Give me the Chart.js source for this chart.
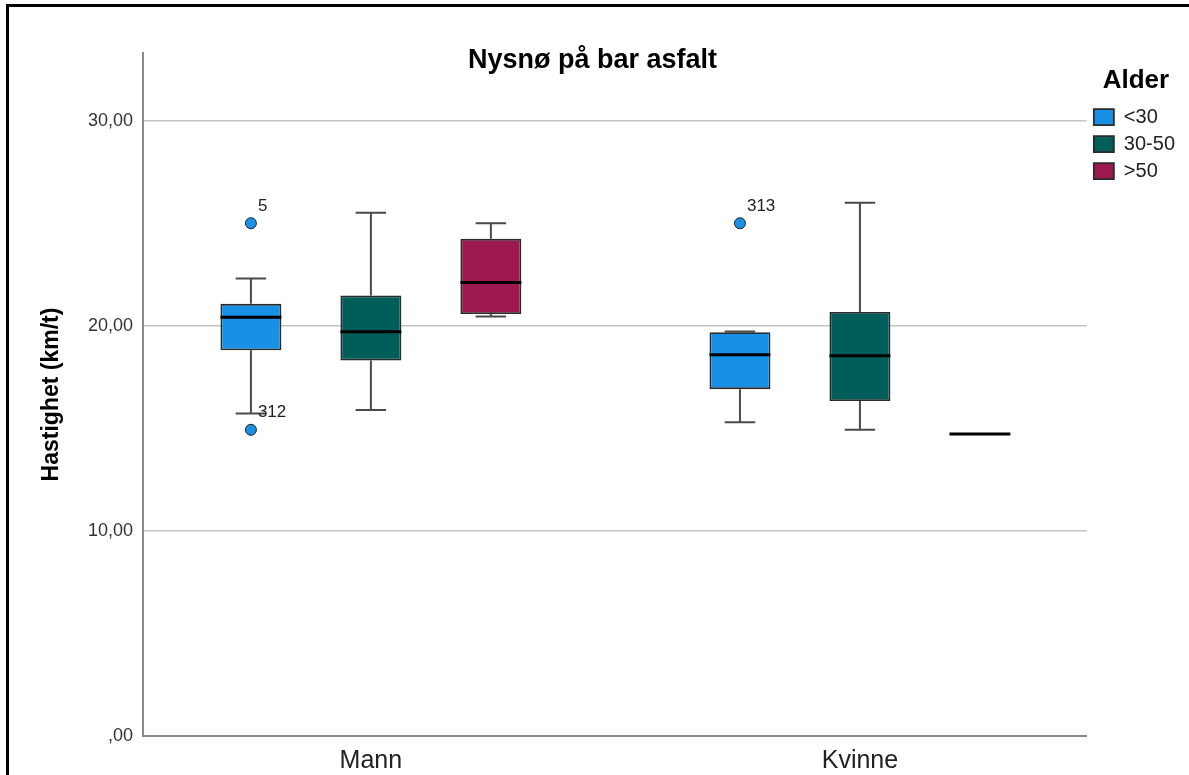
<!DOCTYPE html>
<html>
<head>
<meta charset="utf-8">
<title>Nysnø på bar asfalt</title>
<script src="https://cdn.jsdelivr.net/npm/chart.js@4.4.0/dist/chart.umd.min.js"></script>
<style>
    html, body { margin: 0; padding: 0; background: #fff; overflow: hidden; }
    #wrap { position: relative; width: 1189px; height: 775px; }
    #frame { position: absolute; left: 6px; top: 4px; width: 1220px; height: 820px; border: 3px solid #000; pointer-events: none; }
    canvas { position: absolute; left: 0; top: 0; }
</style>
</head>
<body>
<div id="wrap">
    <canvas id="boxChart" width="1189" height="775"></canvas>
    <div id="frame"></div>
</div>
<script>
// ===== DATOS =====
const categories = ['Mann', 'Kvinne'];
const ageGroups = ['<30', '30-50', '>50'];
const groupColors = ['#1790e5', '#005e5a', '#9e1950'];
const yTickValues = [0, 10, 20, 30];

// one row per age group, one value per category
const whiskerLow  = [[15.72, 15.30], [15.90, 14.93], [20.45, 14.72]];
const boxQ1       = [[18.81, 16.91], [18.31, 16.33], [20.57, 14.72]];
const boxMedian   = [[20.42, 18.59], [19.71, 18.54], [22.11, 14.72]];
const boxQ3       = [[21.07, 19.69], [21.48, 20.67], [24.24, 14.72]];
const whiskerHigh = [[22.31, 19.72], [25.51, 26.00], [25.00, 14.72]];
const outlierValues = [[[25.00, 14.93], [25.00]], [[], []], [[], []]];
const outlierIds    = [[['5', '312'], ['313']], [[], []], [[], []]];

const FONT = 'Arial, "Liberation Sans", sans-serif';
Chart.defaults.font.family = FONT;

// ===== WHISKERS, MEDIANAS, ATÍPICOS =====
const boxExtras = {
    id: 'boxExtras',
    beforeDatasetsDraw(chart) {
        const ctx = chart.ctx;
        const y = chart.scales.y;
        ctx.save();
        ctx.strokeStyle = '#4a4a4a';
        ctx.lineWidth = 2;
        chart.data.datasets.forEach((ds, g) => {
            chart.getDatasetMeta(g).data.forEach((bar, i) => {
                const cap = bar.width / 4;
                const lo = y.getPixelForValue(whiskerLow[g][i]);
                const hi = y.getPixelForValue(whiskerHigh[g][i]);
                const q1 = y.getPixelForValue(boxQ1[g][i]);
                const q3 = y.getPixelForValue(boxQ3[g][i]);
                if (lo === hi) return;
                ctx.beginPath();
                ctx.moveTo(bar.x, q3); ctx.lineTo(bar.x, hi);
                ctx.moveTo(bar.x - cap, hi); ctx.lineTo(bar.x + cap, hi);
                ctx.moveTo(bar.x, q1); ctx.lineTo(bar.x, lo);
                ctx.moveTo(bar.x - cap, lo); ctx.lineTo(bar.x + cap, lo);
                ctx.stroke();
            });
        });
        ctx.restore();
    },
    afterDatasetsDraw(chart) {
        const ctx = chart.ctx;
        const y = chart.scales.y;
        ctx.save();
        chart.data.datasets.forEach((ds, g) => {
            chart.getDatasetMeta(g).data.forEach((bar, i) => {
                // mediana
                const m = y.getPixelForValue(boxMedian[g][i]);
                ctx.strokeStyle = '#000';
                ctx.lineWidth = 3;
                ctx.beginPath();
                ctx.moveTo(bar.x - bar.width / 2, m);
                ctx.lineTo(bar.x + bar.width / 2, m);
                ctx.stroke();

                // atípicos
                outlierValues[g][i].forEach((v, k) => {
                    const py = y.getPixelForValue(v);
                    ctx.beginPath();
                    ctx.arc(bar.x, py, 5.5, 0, Math.PI * 2);
                    ctx.fillStyle = groupColors[g];
                    ctx.fill();
                    ctx.lineWidth = 1;
                    ctx.strokeStyle = '#222';
                    ctx.stroke();
                    ctx.fillStyle = '#222';
                    ctx.font = '17px ' + FONT;
                    ctx.textAlign = 'left';
                    ctx.textBaseline = 'middle';
                    ctx.fillText(outlierIds[g][i][k], bar.x + 7, py - 17);
                });
            });
        });
        ctx.restore();
    }
};

// ===== GRÁFICO =====
const datasets = ageGroups.map((name, g) => ({
    label: name,
    data: categories.map((c, i) => ({ x: i, y: [boxQ1[g][i], boxQ3[g][i]] })),
    backgroundColor: groupColors[g],
    borderColor: '#2a2a2a',
    borderWidth: 1.8,
    borderSkipped: false,
    categoryPercentage: 0.736,
    barPercentage: 0.508
}));

new Chart(document.getElementById('boxChart'), {
    type: 'bar',
    data: { datasets: datasets },
    options: {
        responsive: false,
        animation: false,
        devicePixelRatio: 1,
        layout: { padding: { left: 0, right: 4, top: 0, bottom: 0 } },
        plugins: {
            tooltip: { enabled: false },
            title: {
                display: true,
                text: 'Nysnø på bar asfalt',
                color: '#000',
                font: { size: 27, weight: 'bold' },
                padding: { top: 44, bottom: -23.4 }
            },
            legend: {
                position: 'right',
                align: 'start',
                title: {
                    display: true,
                    text: 'Alder',
                    color: '#000',
                    font: { size: 26, weight: 'bold' },
                    padding: { top: 68, bottom: 1 }
                },
                labels: {
                    boxWidth: 20,
                    boxHeight: 16,
                    color: '#222',
                    font: { size: 20 },
                    padding: 7
                }
            }
        },
        scales: {
            x: {
                type: 'linear',
                offset: false,
                min: -0.466,
                max: 1.464,
                afterBuildTicks: s => { s.ticks = categories.map((c, i) => ({ value: i })); },
                afterFit: s => { s.height = 39; },
                ticks: {
                    callback: v => categories[v],
                    color: '#222',
                    font: { size: 25 },
                    padding: 10
                },
                grid: { drawOnChartArea: false, drawTicks: false },
                border: { display: true, color: '#8a8a8a', width: 2 }
            },
            y: {
                min: 0,
                max: 33.3,
                afterBuildTicks: s => { s.ticks = yTickValues.map(v => ({ value: v })); },
                afterFit: s => { s.width = 143; },
                ticks: {
                    callback: v => v === 0 ? ',00' : v.toFixed(2).replace('.', ','),
                    color: '#333',
                    font: { size: 18 },
                    padding: 10
                },
                grid: { color: '#c4c4c4', lineWidth: 1.5, drawTicks: false },
                border: { display: true, color: '#8a8a8a', width: 2 },
                title: {
                    display: true,
                    text: 'Hastighet (km/t)',
                    color: '#000',
                    font: { size: 23, weight: 'bold' },
                    padding: { top: 38, bottom: 0 }
                }
            }
        }
    },
    plugins: [boxExtras]
});
</script>
</body>
</html>
